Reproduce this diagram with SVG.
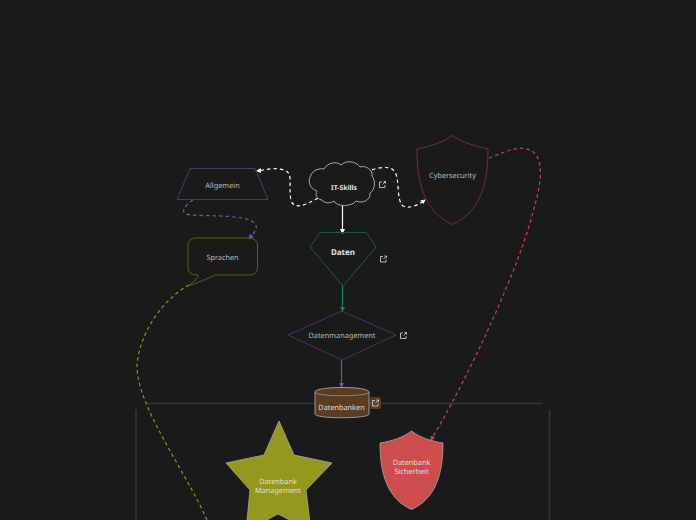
<svg xmlns="http://www.w3.org/2000/svg" width="696" height="520" viewBox="0 0 696 520">
<style>
text{font-family:"Noto Sans","Open Sans","DejaVu Sans",sans-serif;font-size:7.3px;text-anchor:middle;fill:#bdbdbd;text-rendering:geometricPrecision}
.b{font-weight:700;fill:#e6e6e6}
.w{fill:#e8dfd6}
.c{fill:none;stroke-width:1.2}
.d{stroke-dasharray:3.500 3}
.i{fill:none;stroke:#ccc;stroke-width:.9}
.n{fill:none;stroke-width:1}
</style>
<defs>
<marker id="mw" markerWidth="6" markerHeight="6" refX="4" refY="2.5" orient="auto" markerUnits="userSpaceOnUse"><path d="M0 0L5 2.5L0 5z" fill="#fff"/></marker>
<marker id="mb" markerWidth="6" markerHeight="6" refX="4" refY="2.5" orient="auto" markerUnits="userSpaceOnUse"><path d="M0 0L5 2.5L0 5z" fill="#5b64a8"/></marker>
<marker id="mg" markerWidth="6" markerHeight="6" refX="4" refY="2.5" orient="auto" markerUnits="userSpaceOnUse"><path d="M0 0L5 2.5L0 5z" fill="#17855a"/></marker>
<marker id="mp" markerWidth="6" markerHeight="6" refX="4" refY="2.5" orient="auto" markerUnits="userSpaceOnUse"><path d="M0 0L5 2.5L0 5z" fill="#7a50a8"/></marker>
<marker id="mr" markerWidth="6" markerHeight="6" refX="4" refY="2.5" orient="auto" markerUnits="userSpaceOnUse"><path d="M0 0L5 2.5L0 5z" fill="#c44a4a"/></marker>
<g id="ext"><path class="i" d="M3 1H0.5V6.5H6V4M3.5 3.5L6.5 .5M4.5 .5H6.5V2.500"/></g>
</defs>
<rect width="696" height="520" fill="#1a1a1a"/>
<g id="frame" fill="none" stroke="#363636" stroke-width="1.5">
<path d="M146 403.500L543 403.500"/>
<path d="M136 410V520"/>
<path d="M549.500 410V520"/>
</g>
<g id="connectors">
<path class="c d" stroke="#fff" d="M318 198C306 205 295 210 291 201C288 185 294 173 284 170C274 167 265 170 257 171" marker-end="url(#mw)"/>
<path class="c d" stroke="#fff" d="M366 172C376 168 390 164 395 172C400 180 396 200 403 206C410 209 418 205 425 200" marker-end="url(#mw)"/>
<path class="c" stroke="#fff" d="M342.500 206V233" marker-end="url(#mw)"/>
<path class="c" stroke="#17855a" d="M342.500 286V311" marker-end="url(#mg)"/>
<path class="c" stroke="#7a50a8" d="M341.500 360V387" marker-end="url(#mp)"/>
<path class="c d" stroke="#5b64a8" d="M193 200C184 206 181 212 186 214C195 217 225 214 247 219C260 223 258 230 249 238" marker-end="url(#mb)"/>
<path class="c d" stroke="#c44a4a" d="M489 158C505 152 520 144 532 151C545 160 541 185 533 212C520 265 470 375 431 440" marker-end="url(#mr)"/>
<path class="c d" stroke="#8f9420" d="M189 285C165 298 140 330 137 365C136 405 185 470 207 520"/>
</g>
<g id="it-skills">
<path d="M322 200C316 199 315 194 317 191C310 189 307 181 311 175C313 170 320 168 324 169C326 164 336 160 341 165C346 160 356 161 360 167C366 165 373 170 372 176C376 181 375 190 370 193C371 200 362 204 356 201C352 207 336 207 334 201C330 204 324 203 322 200Z" fill="#1a1a1a" stroke="#aaa" stroke-width="1"/>
<text class="b" x="344" y="190" style="font-size:6.800px">IT-Skills</text>
<use href="#ext" x="379" y="181"/>
</g>
<g id="allgemein">
<path class="n" stroke="#3c4568" d="M190 168.500H255L268 199.500H177Z"/>
<text x="222.500" y="188">Allgemein</text>
</g>
<g id="sprachen">
<path class="n" stroke="#5a5b1c" d="M196 238H249Q257.500 238 257.500 246V267Q257.500 275 249 275H215C207 279 197 283 188 286C191 283 199 279 198 275H196Q188 275 188 267V246Q188 238 196 238Z"/>
<text x="222.500" y="260">Sprachen</text>
</g>
<g id="cybersecurity">
<path class="n" stroke="#743030" d="M452.500 135.500C442 143 430 146 417 149C417 185 425 212 452.500 224.500C480 212 488 185 488 149C475 146 463 143 452.500 135.500Z"/>
<text x="452.500" y="178">Cybersecurity</text>
</g>
<g id="daten">
<path class="n" stroke="#1b5e44" d="M320 232.500H366.500L376 247L343 286L310 247Z"/>
<text class="b" x="343" y="255" style="font-size:8px">Daten</text>
<use href="#ext" x="380" y="255.500"/>
</g>
<g id="datenmanagement">
<path class="n" stroke="#463366" d="M342 311L396 335L342 360L288 335Z"/>
<text x="342" y="338">Datenmanagement</text>
<use href="#ext" x="400" y="332"/>
</g>
<g id="datenbanken">
<path d="M315 392C315 386 369 386 369 392V414C369 419 315 419 315 414Z" fill="#5a3c23" stroke="#999" stroke-width="1"/>
<path d="M315 392C315 397 369 397 369 392" fill="none" stroke="#999" stroke-width=".8"/>
<text class="w" x="341.500" y="409.500">Datenbanken</text>
<rect x="370" y="397" width="11" height="12" rx="2" fill="#5a3c23"/>
<use href="#ext" x="372" y="399.500"/>
</g>
<g id="datenbank-management">
<path d="M279 421L294 455L332 463L306 490L311 531L278 514L246 531L250 490L226 463L264 455Z" fill="#94981c" stroke="#aaa" stroke-width=".8"/>
<text class="w" x="278" y="484">Datenbank</text>
<text class="w" x="278" y="493">Management</text>
</g>
<g id="datenbank-sicherheit">
<path d="M411.500 431C402 438 392 441 380 443C380 475 388 499 411.500 509.500C435 499 443 475 443 443C431 441 421 438 411.500 431Z" fill="#cd4d4d" stroke="#aaa" stroke-width=".8"/>
<text class="w" x="411.500" y="465">Datenbank</text>
<text class="w" x="411.500" y="474">Sicherheit</text>
</g>
</svg>
